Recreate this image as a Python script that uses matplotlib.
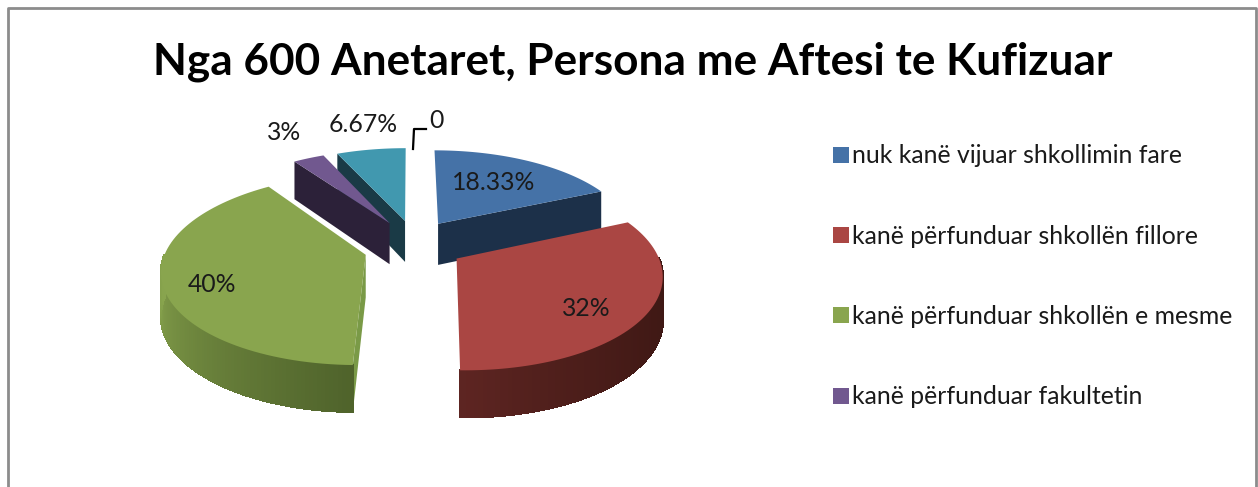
import numpy as np
import matplotlib
matplotlib.use("Agg")
import matplotlib.pyplot as plt
from matplotlib.collections import PolyCollection
from matplotlib.colors import to_rgb
from matplotlib.patches import Patch, Polygon

plt.rcParams["font.family"] = ["Lato", "DejaVu Sans"]

TITLE = "Nga 600 Anetaret, Persona me Aftesi te Kufizuar"
NAMES = ["nuk kanë vijuar shkollimin fare", "kanë përfunduar shkollën fillore",
         "kanë përfunduar shkollën e mesme", "kanë përfunduar fakultetin"]
VALUES = [18.33, 32, 40, 3, 6.67, 0]

TOP = ["#4572A7", "#AA4643", "#89A54E", "#71588F", "#4198AF"]
CUT = ["#1C3049", "#4A1C1A", "#7A9A47", "#2C2139", "#1A3A46"]
RIM_FROM = ["#1C3049", "#3E1814", "#89A54E", "#2C2139", "#1A3A46"]
RIM_TO = ["#1C3049", "#5E2522", "#4F632B", "#2C2139", "#1A3A46"]
EXPLODE_X = [0.147, 0.23, -0.22, -0.107, -0.026]
EXPLODE_Y = [0.21, -0.18, -0.14, 0.218, 0.244]
DRAW_ORDER = [4, 3, 0, 2, 1]
LABEL_POS = [(494, 183), (586, 308), (212, 285), (284, 133), (363, 124), (436, 120)]

CX, CY, A, B, K = 410, 242, 197, 89.5, 0.15


def project(x, y):
    s = 1 + K * y
    return CX + A * x / s, CY - B * y / s


def depth(y):
    return 42 * (1 - 0.1 * y)


def rim_point(i, ang):
    t = np.radians(ang)
    return EXPLODE_X[i] + np.sin(t), EXPLODE_Y[i] + np.cos(t)


def side_quad(p, q):
    # p and q are points on the disc, the quad hangs below them
    p1, q1 = project(*p), project(*q)
    return [p1, q1, (q1[0], q1[1] + depth(q[1])), (p1[0], p1[1] + depth(p[1]))]


fig = plt.figure(figsize=(12.58, 4.87), dpi=100)
ax = fig.add_axes([0, 0, 1, 1])
ax.set_xlim(0, 1258)
ax.set_ylim(487, 0)
ax.axis("off")

# frame of the chart area, cut off at the bottom of the picture
ax.plot([8, 8, 1256, 1256], [487, 8, 8, 487], color="#8C8C8C", lw=2)

edges = np.concatenate([[0], np.cumsum(VALUES) * 3.6])

for i in DRAW_ORDER:
    a0, a1 = edges[i], edges[i + 1]
    apex = (EXPLODE_X[i], EXPLODE_Y[i])
    # flat cut faces that look at the viewer
    if 180 <= a0 < 360:
        ax.add_patch(Polygon(side_quad(apex, rim_point(i, a0)), color=CUT[i], lw=0))
    if a1 < 180:
        ax.add_patch(Polygon(side_quad(apex, rim_point(i, a1)), color=CUT[i], lw=0))
    # outer wall, shaded by angle
    lo, hi = max(a0, 90), min(a1, 270)
    if lo < hi:
        angs = np.linspace(lo, hi, 90)
        quads, cols = [], []
        for u, v in zip(angs[:-1], angs[1:]):
            quads.append(side_quad(rim_point(i, u), rim_point(i, v)))
            f = (u - lo) / (hi - lo)
            c0, c1 = np.array(to_rgb(RIM_FROM[i])), np.array(to_rgb(RIM_TO[i]))
            if i == 1:
                f = f ** 2
            if i == 2:
                c0, c1 = c1, c0
            cols.append(c0 + (c1 - c0) * f)
        ax.add_collection(PolyCollection(quads, facecolors=cols, edgecolors=cols,
                                         linewidths=1, antialiased=False))
    # top face
    angs = np.linspace(a0, a1, 80)
    pts = [project(*apex)] + [project(*rim_point(i, u)) for u in angs]
    ax.add_patch(Polygon(pts, color=TOP[i], lw=0))

for v, (x, y) in zip(VALUES, LABEL_POS):
    ax.text(x, y, f"{v:g}%" if v else "0", ha="center", va="center",
            fontsize=17.8, color="#1A1A1A")
ax.plot([413, 414, 426], [149, 129, 129], color="black", lw=1.6)

ax.text(633, 62, TITLE, ha="center", va="center", fontsize=31.8, fontweight="bold", color="black")

handles = [Patch(facecolor=c, edgecolor="none") for c in TOP[:4]]
ax.legend(handles, NAMES, loc="upper left", bbox_to_anchor=(811 / 1258, 1 - 122 / 487),
          frameon=False, fontsize=17.8, handlelength=0.62, handleheight=0.62,
          handletextpad=0.14, labelspacing=2.32, labelcolor="#1A1A1A")

fig.savefig("out.png", dpi=100)
